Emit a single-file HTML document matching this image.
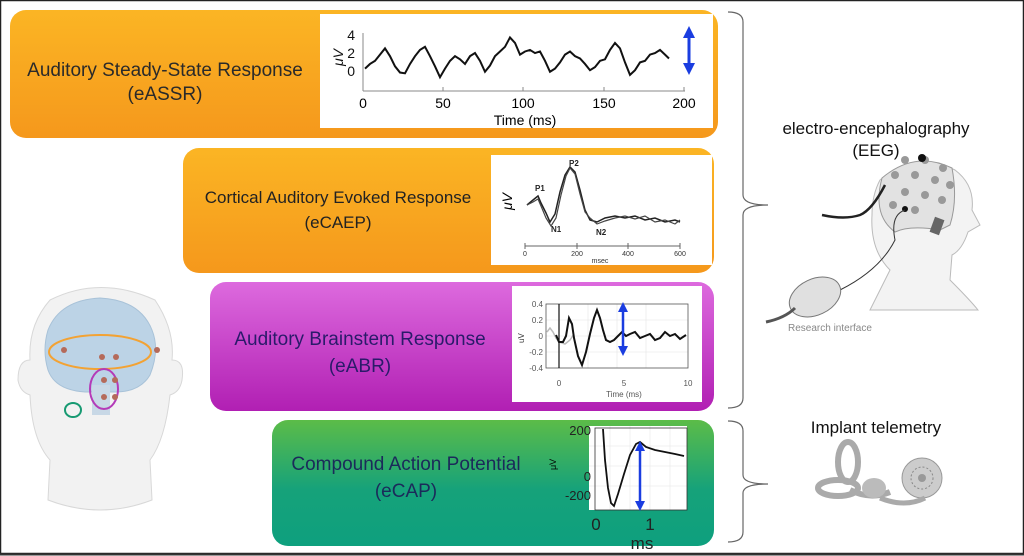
<!DOCTYPE html>
<html><head><meta charset="utf-8"><style>
html,body{margin:0;padding:0;background:#fff}
svg{display:block}
text{font-family:"Liberation Sans",sans-serif}
</style></head><body>
<svg width="1024" height="556" viewBox="0 0 1024 556" xmlns="http://www.w3.org/2000/svg">
<defs>
<linearGradient id="og" x1="0" y1="0" x2="0" y2="1"><stop offset="0" stop-color="#fbb524"/><stop offset="1" stop-color="#f5981c"/></linearGradient>
<linearGradient id="mg" x1="0" y1="0" x2="0" y2="1"><stop offset="0" stop-color="#dd6ade"/><stop offset="1" stop-color="#b11fb3"/></linearGradient>
<linearGradient id="gg" x1="0" y1="0" x2="0" y2="1"><stop offset="0" stop-color="#5cbc48"/><stop offset="0.55" stop-color="#16a27a"/><stop offset="1" stop-color="#0ea07e"/></linearGradient>
<marker id="ah" viewBox="0 0 10 10" refX="5" refY="5" markerWidth="4" markerHeight="4" orient="auto-start-reverse"><path d="M0,0L10,5L0,10z" fill="#1a3de0"/></marker>
</defs>
<rect x="0.5" y="0.5" width="1023" height="553" fill="#fff" stroke="#222" stroke-width="1.5"/>
<line x1="0" y1="554.5" x2="1024" y2="554.5" stroke="#333" stroke-width="2"/>

<!-- Box 1 -->
<rect x="10" y="10" width="708" height="128" rx="16" fill="url(#og)"/>
<text x="165" y="76" font-size="19" text-anchor="middle" fill="#2a2a2a">Auditory Steady-State Response</text>
<text x="165" y="100" font-size="19" text-anchor="middle" fill="#2a2a2a">(eASSR)</text>
<rect x="320" y="14" width="393" height="114" fill="#fff"/>
<line x1="363" y1="33" x2="363" y2="91" stroke="#888"/><line x1="363" y1="91" x2="685" y2="91" stroke="#888"/>
<g stroke="#888"><line x1="443" y1="87" x2="443" y2="91"/><line x1="523" y1="87" x2="523" y2="91"/><line x1="604" y1="87" x2="604" y2="91"/><line x1="684" y1="87" x2="684" y2="91"/></g>
<text x="355" y="40" font-size="14" text-anchor="end" fill="#111">4</text>
<text x="355" y="58" font-size="14" text-anchor="end" fill="#111">2</text>
<text x="355" y="76" font-size="14" text-anchor="end" fill="#111">0</text>
<text x="343" y="66" font-size="14" fill="#111" transform="rotate(-90 343 66)" font-style="italic">μV</text>
<text x="363" y="108" font-size="14" text-anchor="middle">0</text>
<text x="443" y="108" font-size="14" text-anchor="middle">50</text>
<text x="523" y="108" font-size="14" text-anchor="middle">100</text>
<text x="604" y="108" font-size="14" text-anchor="middle">150</text>
<text x="684" y="108" font-size="14" text-anchor="middle">200</text>
<text x="525" y="125" font-size="14" text-anchor="middle">Time (ms)</text>
<polyline transform="scale(1,0.78)" vector-effect="non-scaling-stroke" fill="none" stroke="#111" stroke-width="2" points="365,88 370,82 375,78 380,70 385,62 390,72 395,85 400,93 405,94 410,82 415,72 420,64 425,60 430,72 435,85 440,99 445,88 450,78 455,72 460,76 465,82 470,72 475,68 480,78 485,92 490,84 495,72 500,66 505,60 510,48 515,55 520,70 525,66 530,64 535,68 540,66 545,78 550,92 555,88 560,80 565,70 570,66 575,72 580,75 585,82 590,90 595,86 600,78 605,76 610,64 615,55 620,62 625,80 630,96 635,90 640,80 645,78 650,70 655,68 660,64 665,70 669,75"/>
<line x1="689" y1="32" x2="689" y2="69" stroke="#1a3de0" stroke-width="3" marker-start="url(#ah)" marker-end="url(#ah)"/>

<!-- Box 2 -->
<rect x="183" y="148" width="531" height="125" rx="16" fill="url(#og)"/>
<text x="338" y="203" font-size="17" text-anchor="middle" fill="#222">Cortical Auditory Evoked Response</text>
<text x="338" y="228" font-size="17" text-anchor="middle" fill="#222">(eCAEP)</text>
<rect x="491" y="155" width="221" height="110" fill="#fff"/>
<line x1="525" y1="246" x2="680" y2="246" stroke="#666"/>
<g stroke="#666"><line x1="525" y1="243" x2="525" y2="249"/><line x1="577" y1="243" x2="577" y2="249"/><line x1="628" y1="243" x2="628" y2="249"/><line x1="680" y1="243" x2="680" y2="249"/></g>
<g font-size="7" text-anchor="middle" fill="#333"><text x="525" y="256">0</text><text x="577" y="256">200</text><text x="628" y="256">400</text><text x="680" y="256">600</text><text x="600" y="263">msec</text></g>
<text x="512" y="210" font-size="14" font-style="italic" transform="rotate(-90 512 210)">μV</text>
<g font-size="8" font-weight="bold" fill="#222"><text x="535" y="191">P1</text><text x="569" y="166">P2</text><text x="551" y="232">N1</text><text x="596" y="235">N2</text></g>
<polyline fill="none" stroke="#222" stroke-width="1.5" points="527,205 533,200 538,196 541,203 546,213 550,222 555,214 560,192 565,175 570,167 575,172 580,190 585,210 590,220 597,222 605,218 615,216 625,218 635,216 645,220 655,218 665,222 675,220 680,222"/>
<polyline fill="none" stroke="#444" stroke-width="1.2" points="527,205 533,202 538,199 541,206 546,218 551,226 556,218 561,195 566,176 570,168 575,174 580,194 585,212 590,218 597,224 605,221 615,218 625,216 635,219 645,216 655,222 665,220 675,224 680,220"/>

<!-- Box 3 -->
<rect x="210" y="282" width="504" height="129" rx="16" fill="url(#mg)"/>
<text x="360" y="345" font-size="19" text-anchor="middle" fill="#2a1a6a">Auditory Brainstem Response</text>
<text x="360" y="372" font-size="19" text-anchor="middle" fill="#2a1a6a">(eABR)</text>
<rect x="512" y="286" width="190" height="116" fill="#fff"/>
<g stroke="#e4e4e4" stroke-width="0.6"><line x1="588" y1="304" x2="588" y2="368"/><line x1="617" y1="304" x2="617" y2="368"/><line x1="646" y1="304" x2="646" y2="368"/><line x1="546" y1="320" x2="688" y2="320"/><line x1="546" y1="336" x2="688" y2="336"/><line x1="546" y1="352" x2="688" y2="352"/></g>
<rect x="546" y="304" width="142" height="64" fill="none" stroke="#555" stroke-width="0.8"/>
<line x1="559" y1="304" x2="559" y2="368" stroke="#111" stroke-width="1.2"/>
<g font-size="8" fill="#555" text-anchor="end"><text x="543" y="307">0.4</text><text x="543" y="323">0.2</text><text x="543" y="339">0</text><text x="543" y="355">-0.2</text><text x="543" y="371">-0.4</text></g>
<text x="524" y="343" font-size="8" transform="rotate(-90 524 343)" fill="#333">uV</text>
<g font-size="8" fill="#555" text-anchor="middle"><text x="559" y="386">0</text><text x="624" y="386">5</text><text x="688" y="386">10</text><text x="624" y="397">Time (ms)</text></g>
<polyline fill="none" stroke="#bbb" stroke-width="1.5" points="547,332 550,328 553,332 556,338 559,342 565,344 570,340 574,334"/>
<polyline fill="none" stroke="#111" stroke-width="2" points="556,335 559,342 563,342 566,336 569,318 572,324 574,338 578,356 582,365 586,352 590,334 594,318 597,310 600,318 603,330 606,340 610,342 614,340 618,336 622,332 626,336 630,334 635,332 640,338 645,336 650,334 655,340 660,338 665,332 670,336 675,334 680,339 686,335"/>
<line x1="623" y1="307" x2="623" y2="351" stroke="#1a3de0" stroke-width="2.5" marker-start="url(#ah)" marker-end="url(#ah)"/>

<!-- Box 4 -->
<rect x="272" y="420" width="442" height="126" rx="16" fill="url(#gg)"/>
<text x="406" y="470" font-size="19" text-anchor="middle" fill="#1b2a5a">Compound Action Potential</text>
<text x="406" y="497" font-size="19" text-anchor="middle" fill="#1b2a5a">(eCAP)</text>
<rect x="589" y="426" width="98" height="84" fill="#fff"/>
<g stroke="#e6e6e6" stroke-width="0.6"><line x1="610" y1="426" x2="610" y2="510"/><line x1="630" y1="426" x2="630" y2="510"/><line x1="650" y1="426" x2="650" y2="510"/><line x1="670" y1="426" x2="670" y2="510"/><line x1="589" y1="446" x2="687" y2="446"/><line x1="589" y1="466" x2="687" y2="466"/><line x1="589" y1="486" x2="687" y2="486"/></g>
<rect x="595" y="428" width="92" height="82" fill="none" stroke="#333" stroke-width="0.8"/>
<g font-size="13" fill="#222" text-anchor="end"><text x="591" y="435">200</text><text x="591" y="481">0</text><text x="591" y="500">-200</text></g>
<text x="556" y="470" font-size="9" transform="rotate(-90 556 470)">μV</text>
<g font-size="17" fill="#222" text-anchor="middle"><text x="596" y="530">0</text><text x="650" y="530">1</text><text x="642" y="549">ms</text></g>
<polyline fill="none" stroke="#111" stroke-width="1.8" points="603,429 605,460 608,488 611,503 614,506 618,494 624,474 630,455 636,444 640,442 646,447 655,450 665,452 675,454 684,456"/>
<line x1="640" y1="446" x2="640" y2="506" stroke="#1a3de0" stroke-width="2.5" marker-start="url(#ah)" marker-end="url(#ah)"/>

<!-- brackets -->
<path d="M728,12 Q743,12 743,22 L743,195 Q743,205 768,205 Q743,205 743,215 L743,398 Q743,408 728,408" fill="none" stroke="#666" stroke-width="1.2"/>
<path d="M728,421 Q743,421 743,431 L743,475 Q743,484 768,484 Q743,484 743,493 L743,532 Q743,542 728,542" fill="none" stroke="#666" stroke-width="1.2"/>

<!-- EEG -->
<text x="876" y="134" font-size="17" text-anchor="middle" fill="#111">electro-encephalography</text>
<text x="876" y="156" font-size="17" text-anchor="middle" fill="#111">(EEG)</text>
<path d="M880,180 Q915,150 955,170 Q975,185 972,210 L980,225 L968,232 Q962,250 952,255 L950,280 Q970,300 978,310 L870,310 Q880,290 890,270 Q870,250 872,215 Q872,195 880,180Z" fill="#f3f3f3" stroke="#bbb"/>
<path d="M882,178 Q915,150 952,168 Q958,200 950,225 L940,230 Q910,225 895,232 Q872,215 882,178Z" fill="#e2e2e2" stroke="#999"/>
<g fill="#999"><circle cx="905" cy="160" r="4"/><circle cx="925" cy="160" r="4"/><circle cx="943" cy="168" r="4"/><circle cx="895" cy="175" r="4"/><circle cx="915" cy="175" r="4"/><circle cx="935" cy="180" r="4"/><circle cx="950" cy="185" r="4"/><circle cx="905" cy="192" r="4"/><circle cx="925" cy="195" r="4"/><circle cx="942" cy="200" r="4"/><circle cx="893" cy="205" r="4"/><circle cx="915" cy="210" r="4"/></g>
<circle cx="922" cy="158" r="4" fill="#111"/><circle cx="905" cy="209" r="3" fill="#111"/>
<rect x="932" y="218" width="10" height="16" fill="#666" transform="rotate(20 937 226)"/>
<path d="M885,185 Q872,210 860,215 Q845,220 822,215" fill="none" stroke="#222" stroke-width="2.5"/>
<path d="M905,210 Q890,215 895,240 Q880,270 840,290" fill="none" stroke="#333" stroke-width="1"/>
<ellipse cx="815" cy="297" rx="27" ry="18" transform="rotate(-25 815 297)" fill="#e0e0e0" stroke="#777"/>
<path d="M795,308 Q785,318 766,322" fill="none" stroke="#555" stroke-width="3"/>
<text x="788" y="331" font-size="10" fill="#888">Research interface</text>

<!-- implant -->
<text x="876" y="433" font-size="17" text-anchor="middle" fill="#111">Implant telemetry</text>
<g fill="none" stroke="#aaa" stroke-width="6">
<ellipse cx="848" cy="462" rx="10" ry="20"/>
<ellipse cx="838" cy="488" rx="20" ry="8"/>
<path d="M850,490 Q870,500 890,492"/>
</g>
<ellipse cx="874" cy="488" rx="12" ry="10" fill="#bbb"/>
<circle cx="922" cy="478" r="20" fill="#ccc" stroke="#999"/>
<circle cx="922" cy="478" r="11" fill="none" stroke="#888" stroke-dasharray="2 2"/>
<circle cx="922" cy="478" r="4" fill="#999"/>
<path d="M880,498 Q905,508 925,498" fill="none" stroke="#aaa" stroke-width="5"/>

<!-- head left -->
<path d="M50,300 Q100,275 155,300 Q175,330 172,360 Q185,360 182,380 Q180,392 170,395 Q165,440 150,460 L152,500 Q100,520 48,500 L50,460 Q32,440 30,395 Q20,392 18,380 Q18,360 30,360 Q28,325 50,300Z" fill="#f2f2f2" stroke="#d8d8d8"/>
<path d="M48,330 Q60,300 100,298 Q140,300 152,330 Q160,350 150,375 Q140,392 115,392 L85,392 Q55,390 48,370 Q42,350 48,330Z" fill="#bcd3e6" stroke="#a8c2d8"/>
<rect x="92" y="385" width="18" height="30" fill="#c8d8e6"/>
<ellipse cx="100" cy="352" rx="51" ry="17" fill="none" stroke="#f3a233" stroke-width="2"/>
<ellipse cx="104" cy="389" rx="14" ry="20" fill="none" stroke="#b43ab8" stroke-width="2"/>
<ellipse cx="73" cy="410" rx="8" ry="7" fill="none" stroke="#179a72" stroke-width="2"/>
<g fill="#b56a5a"><circle cx="64" cy="350" r="3"/><circle cx="157" cy="350" r="3"/><circle cx="102" cy="357" r="3"/><circle cx="116" cy="357" r="3"/><circle cx="104" cy="380" r="3"/><circle cx="115" cy="380" r="3"/><circle cx="104" cy="397" r="3"/><circle cx="115" cy="397" r="3"/></g>
</svg>
</body></html>
